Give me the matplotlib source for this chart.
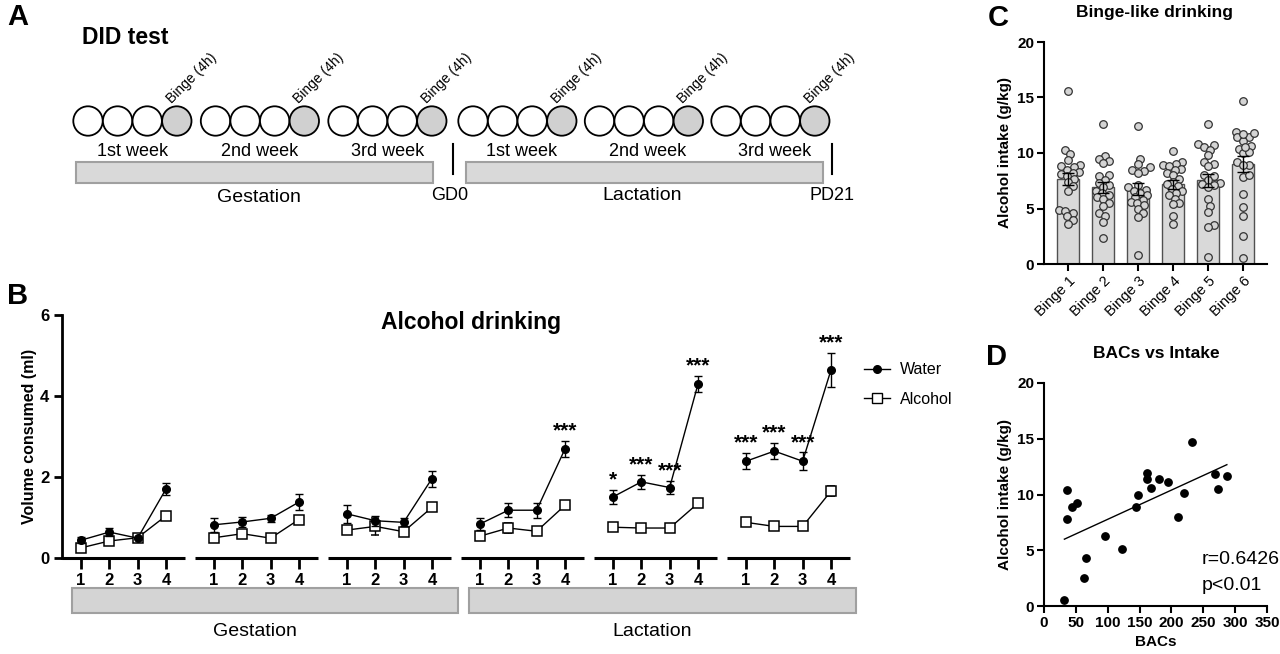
import numpy as np
import matplotlib
matplotlib.use("Agg")
import matplotlib.pyplot as plt
from matplotlib.patches import Circle, Rectangle
from matplotlib.lines import Line2D

plt.rcParams['font.family'] = ['Liberation Sans', 'DejaVu Sans']

W, H = 1280, 654

# ---- panel B data: 6 weeks (3 gestation + 3 lactation), 4 days each
days = [1, 2, 3, 4]
water_mean = [[0.44, 0.64, 0.49, 1.70],
              [0.82, 0.89, 0.98, 1.38],
              [1.09, 0.92, 0.88, 1.96],
              [0.84, 1.18, 1.18, 2.69],
              [1.51, 1.88, 1.74, 4.29],
              [2.39, 2.64, 2.39, 4.64]]
water_sem = [[0.08, 0.09, 0.03, 0.14],
             [0.17, 0.12, 0.08, 0.19],
             [0.22, 0.12, 0.10, 0.20],
             [0.14, 0.17, 0.19, 0.20],
             [0.17, 0.17, 0.17, 0.20],
             [0.20, 0.20, 0.22, 0.43]]
alcohol_mean = [[0.25, 0.42, 0.50, 1.04],
                [0.50, 0.60, 0.49, 0.95],
                [0.69, 0.78, 0.65, 1.25],
                [0.54, 0.74, 0.66, 1.30],
                [0.76, 0.74, 0.74, 1.35],
                [0.88, 0.78, 0.78, 1.65]]
alcohol_sem = [[0.05, 0.04, 0.02, 0.08],
               [0.04, 0.04, 0.03, 0.05],
               [0.05, 0.20, 0.04, 0.05],
               [0.05, 0.13, 0.04, 0.05],
               [0.10, 0.04, 0.08, 0.10],
               [0.04, 0.03, 0.03, 0.12]]
stars = [["", "", "", ""],
         ["", "", "", ""],
         ["", "", "", ""],
         ["", "", "", "***"],
         ["*", "***", "***", "***"],
         ["***", "***", "***", "***"]]

# ---- panel C data (g/kg per binge, 22 dams)
binge_labels = ["Binge 1", "Binge 2", "Binge 3", "Binge 4", "Binge 5", "Binge 6"]
binge_mean = [7.65, 6.9, 6.75, 7.2, 7.55, 9.0]
binge_sem = [0.55, 0.5, 0.55, 0.4, 0.6, 0.7]
binge1 = [15.6, 10.3, 9.9, 9.4, 8.9, 8.8, 8.7, 8.5, 8.3, 8.2, 8.1, 7.9, 7.7, 7.4,
          7.0, 6.6, 4.9, 4.8, 4.6, 4.3, 4.0, 3.6]
binge2 = [12.6, 9.7, 9.5, 9.3, 9.1, 8.0, 7.9, 7.6, 7.3, 7.1, 6.9, 6.6, 6.4, 6.2,
          6.0, 5.9, 5.5, 5.2, 4.6, 4.3, 3.8, 2.3]
binge3 = [12.4, 9.5, 9.0, 8.7, 8.5, 8.4, 8.2, 7.1, 6.9, 6.7, 6.6, 6.4, 6.2, 6.0,
          5.8, 5.6, 5.5, 5.3, 5.0, 4.6, 4.2, 0.8]
binge4 = [10.2, 9.2, 9.0, 8.9, 8.8, 8.6, 8.5, 8.2, 8.0, 7.7, 7.4, 7.2, 7.0, 6.8,
          6.6, 6.4, 6.2, 5.9, 5.5, 5.4, 4.3, 3.6]
binge5 = [12.6, 10.8, 10.7, 10.5, 10.3, 9.8, 9.2, 9.0, 8.8, 8.0, 7.9, 7.6, 7.3,
          7.2, 7.1, 6.9, 5.9, 5.2, 4.7, 3.5, 3.3, 0.6]

# ---- panel D data
bacs = [32, 36, 36, 44, 52, 62, 66, 95, 123, 145, 148, 161, 161, 168, 181, 194,
        211, 219, 232, 268, 273, 287]
intake = [0.5, 7.8, 10.4, 8.9, 9.2, 2.5, 4.3, 6.3, 5.1, 8.9, 10.0, 11.9, 11.4,
          10.6, 11.4, 11.1, 8.0, 10.1, 14.7, 11.8, 10.5, 11.7]
binge6 = intake
binge_points = [binge1, binge2, binge3, binge4, binge5, binge6]


def px_axes(fig, l, t, r, b):
    ax = fig.add_axes([l / W, 1 - b / H, (r - l) / W, (b - t) / H])
    ax.patch.set_alpha(0)
    return ax


def swarm(vals, ypx, xpx, dpx, step=1.5):
    placed = []
    offs = np.zeros(len(vals))
    for i in np.argsort(vals):
        y = vals[i] * ypx
        k = 0
        while True:
            cands = [0.0] if k == 0 else [k * step, -k * step]
            done = False
            for c in cands:
                if all((c - px) ** 2 + (y - py) ** 2 >= dpx ** 2 for px, py in placed):
                    placed.append((c, y))
                    offs[i] = c / xpx
                    done = True
                    break
            if done:
                break
            k += 1
    return offs


fig = plt.figure(figsize=(12.8, 6.54), dpi=100)

# ================= overlay: panel A schematic + letters =================
ov = fig.add_axes([0, 0, 1, 1])
ov.set_xlim(0, W)
ov.set_ylim(H, 0)
ov.axis('off')

for lab, x, y in [("A", 18, 17), ("B", 18, 296), ("C", 998, 18), ("D", 996, 357)]:
    ov.text(x, y, lab, fontsize=21, fontweight='bold', ha='center', va='center')

ov.text(82, 38, "DID test", fontsize=16.5, fontweight='bold', ha='left', va='center')

group_starts = [88 + 127.5 * i for i in range(3)] + [473 + 126.5 * i for i in range(3)]
week_names = ["1st week", "2nd week", "3rd week"] * 2
gap, rad = 29.6, 14.7
for gi, x0 in enumerate(group_starts):
    for d in range(4):
        fc = '#d0d0d0' if d == 3 else 'white'
        ov.add_patch(Circle((x0 + d * gap, 121), rad, facecolor=fc,
                            edgecolor='black', lw=1.3))
    gx = x0 + 3 * gap
    ov.text(gx - 3, 106, "Binge (4h)", fontsize=10, rotation=45,
            rotation_mode='anchor', ha='left', va='bottom')
    shift = 0 if gi < 3 else 4
    ov.text(x0 + 1.5 * gap + shift, 151, week_names[gi], fontsize=13,
            ha='center', va='center')

ov.add_patch(Rectangle((76, 162), 357, 21, facecolor='#d9d9d9', edgecolor='#a0a0a0', lw=1.5))
ov.add_patch(Rectangle((466, 162), 357, 21, facecolor='#d9d9d9', edgecolor='#a0a0a0', lw=1.5))
ov.plot([453, 453], [144, 174], color='black', lw=1.5)
ov.plot([832, 832], [144, 174], color='black', lw=1.5)
ov.text(259, 197, "Gestation", fontsize=14, ha='center', va='center')
ov.text(642, 196, "Lactation", fontsize=14, ha='center', va='center')
ov.text(450, 196, "GD0", fontsize=13, ha='center', va='center')
ov.text(832, 196, "PD21", fontsize=13, ha='center', va='center')

# gray phase bars under panel B
ov.add_patch(Rectangle((72, 588), 386, 25, facecolor='#d4d4d4', edgecolor='#a0a0a0', lw=1.5))
ov.add_patch(Rectangle((469, 588), 387, 25, facecolor='#d4d4d4', edgecolor='#a0a0a0', lw=1.5))
ov.text(255, 631, "Gestation", fontsize=14, ha='center', va='center')
ov.text(652, 631, "Lactation", fontsize=14, ha='center', va='center')

# ================= panel B =================
axb = px_axes(fig, 62, 315, 851, 558)
sep = 4.7
axb.set_xlim(1 - 19 / 28.3, 1 + 770 / 28.3)
axb.set_ylim(0, 6)
for s in ['top', 'right', 'bottom']:
    axb.spines[s].set_visible(False)
axb.spines['left'].set_linewidth(2)
ticks, ticklabels = [], []
for g in range(6):
    xs = [g * sep + d for d in days]
    axb.errorbar(xs, water_mean[g], yerr=water_sem[g], fmt='-o', color='black',
                 ms=5.5, lw=1, elinewidth=1, capsize=3, capthick=1, zorder=3)
    axb.errorbar(xs, alcohol_mean[g], yerr=alcohol_sem[g], fmt='-s', color='black',
                 mfc='white', mec='black', ms=6.5, mew=1.1, lw=1, elinewidth=1,
                 capsize=3, capthick=1, zorder=2)
    axb.plot([xs[0] - 0.67, xs[-1] + 0.67], [0, 0], color='black', lw=2.2,
             clip_on=False, solid_capstyle='butt')
    for x, m, e, st in zip(xs, water_mean[g], water_sem[g], stars[g]):
        if st:
            axb.annotate(st, (x, m + e + 0.38), xytext=(0, -8),
                         textcoords='offset points', ha='center', va='baseline',
                         fontsize=15, fontweight='bold')
    ticks += xs
    ticklabels += [str(d) for d in days]
axb.set_xticks(ticks)
axb.set_xticklabels(ticklabels, fontsize=12, fontweight='bold')
axb.set_yticks([0, 2, 4, 6])
axb.set_yticklabels(['0', '2', '4', '6'], fontsize=12, fontweight='bold')
axb.tick_params(axis='x', length=8, width=2, pad=3)
axb.tick_params(axis='y', length=6, width=2, pad=3)
axb.set_ylabel("Volume consumed (ml)", fontsize=11.5, fontweight='bold', labelpad=2)
axb.text(0.518, 1.0 - 8 / 243, "Alcohol drinking", transform=axb.transAxes,
         fontsize=16.5, fontweight='bold', ha='center', va='center')

h_water = Line2D([], [], color='black', marker='o', ms=5.5, lw=1)
h_alc = Line2D([], [], color='black', marker='s', mfc='white', ms=6.5, lw=1)
fig.legend([h_water, h_alc], ["Water", "Alcohol"], loc='upper left',
           bbox_to_anchor=(850 / W, 1 - 348 / H), frameon=False, fontsize=11.5,
           handlelength=1.6, handletextpad=0.6, labelspacing=0.9)

# ================= panel C =================
axc = px_axes(fig, 1044, 42, 1267, 264)
xc = np.arange(len(binge_labels))
axc.bar(xc, binge_mean, width=0.64, color='#d9d9d9', edgecolor='#505050', lw=1, zorder=1)
axc.errorbar(xc, binge_mean, yerr=binge_sem, fmt='none', ecolor='black', elinewidth=1,
             capsize=4, capthick=1, zorder=3)
for i, pts in enumerate(binge_points):
    pts = np.array(pts)
    offs = swarm(pts, 11.1, 35.0, 5.6)
    axc.scatter(xc[i] + offs, pts, s=30, facecolor='#d4d4d4', edgecolor='#333333',
                lw=0.9, zorder=2, clip_on=False)
axc.set_xlim(-24 / 35, 5 + 24 / 35)
axc.set_ylim(0, 20)
axc.set_yticks([0, 5, 10, 15, 20])
axc.set_yticklabels(['0', '5', '10', '15', '20'], fontsize=11, fontweight='bold')
axc.set_xticks(xc)
axc.set_xticklabels(binge_labels, rotation=45, ha='right', rotation_mode='anchor',
                    fontsize=10.5)
for s in ['top', 'right']:
    axc.spines[s].set_visible(False)
for s in ['left', 'bottom']:
    axc.spines[s].set_linewidth(1.5)
axc.tick_params(length=5, width=1.5, pad=2)
axc.set_ylabel("Alcohol intake (g/kg)", fontsize=11, fontweight='bold', labelpad=4)
ov.text(1155, 13, "Binge-like drinking", fontsize=12.5, fontweight='bold',
        ha='center', va='center')

# ================= panel D =================
axd = px_axes(fig, 1044, 383, 1267, 606)
axd.scatter(bacs, intake, s=28, color='black', zorder=3, clip_on=False)
slope, icpt = np.polyfit(bacs, intake, 1)
xl = np.array([min(bacs), max(bacs)])
axd.plot(xl, slope * xl + icpt, color='black', lw=1)
axd.set_xlim(0, 350)
axd.set_ylim(0, 20)
axd.set_xticks(range(0, 351, 50))
axd.set_xticklabels([str(v) for v in range(0, 351, 50)], fontsize=11, fontweight='bold')
axd.set_yticks([0, 5, 10, 15, 20])
axd.set_yticklabels(['0', '5', '10', '15', '20'], fontsize=11, fontweight='bold')
for s in ['top', 'right']:
    axd.spines[s].set_visible(False)
for s in ['left', 'bottom']:
    axd.spines[s].set_linewidth(1.5)
axd.tick_params(length=5, width=1.5, pad=2)
axd.set_xlabel("BACs", fontsize=11, fontweight='bold', labelpad=4)
axd.set_ylabel("Alcohol intake (g/kg)", fontsize=11, fontweight='bold', labelpad=4)
ov.text(1156, 354, "BACs vs Intake", fontsize=12.5, fontweight='bold',
        ha='center', va='center')
ov.text(1202, 560, "r=0.6426", fontsize=14, ha='left', va='center')
ov.text(1202, 586, "p<0.01", fontsize=14, ha='left', va='center')

fig.savefig("out.png", dpi=100)
